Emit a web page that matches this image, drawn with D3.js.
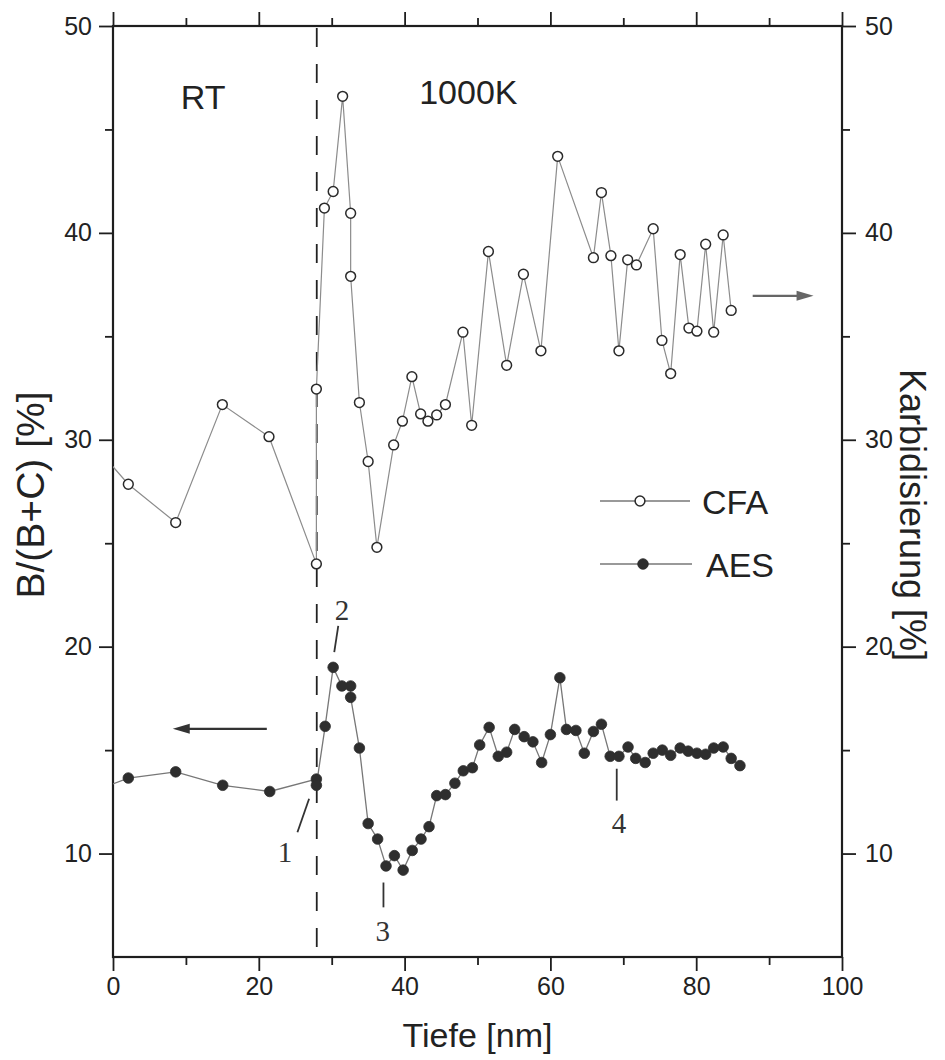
<!DOCTYPE html>
<html>
<head>
<meta charset="utf-8">
<script src="https://cdn.jsdelivr.net/npm/d3@7"></script>
<style>
  html, body { margin: 0; padding: 0; background: #fff; }
  svg { display: block; font-family: "Liberation Sans", Arial, Helvetica, sans-serif; }
</style>
</head>
<body>
<svg id="chart" width="945" height="1060"></svg>
<script>
// Depth profile (nm) of the boron fraction: AES (left axis) and CFA carbidisation (right axis)
const cfaDepth = [-2, 2.1, 8.6, 15.0, 21.4, 27.9, 27.9, 29.0, 30.2, 31.5, 32.6, 32.6, 33.8, 35.0, 36.2,
  38.5, 39.7, 41.0, 42.2, 43.2, 44.4, 45.6, 48.0, 49.2, 51.5, 54.0, 56.3, 58.7, 61.0, 65.9,
  67.0, 68.3, 69.4, 70.6, 71.8, 74.1, 75.3, 76.5, 77.8, 79.0, 80.1, 81.3, 82.4, 83.7, 84.8];
const cfaValue = [29.5, 27.85, 26.0, 31.7, 30.15, 24.0, 32.45, 41.2, 42.0, 46.6, 40.95, 37.9, 31.8, 28.95, 24.8,
  29.75, 30.9, 33.05, 31.25, 30.9, 31.2, 31.7, 35.2, 30.7, 39.1, 33.6, 38.0, 34.3, 43.7, 38.8,
  41.95, 38.9, 34.3, 38.7, 38.45, 40.2, 34.8, 33.2, 38.95, 35.4, 35.25, 39.45, 35.2, 39.9, 36.25];

const aesDepth = [-2, 2.1, 8.6, 15.05, 21.5, 27.9, 27.9, 29.1, 30.2, 31.4, 32.6, 32.6, 33.8, 35.0, 36.3,
  37.45, 38.6, 39.8, 41.05, 42.25, 43.35, 44.4, 45.6, 46.9, 48.05, 49.3, 50.3, 51.6, 52.85, 54.0,
  55.1, 56.4, 57.6, 58.8, 60.0, 61.3, 62.2, 63.5, 64.65, 65.9, 67.0, 68.2, 69.4, 70.65, 71.7,
  73.0, 74.1, 75.35, 76.5, 77.8, 78.9, 80.1, 81.3, 82.4, 83.7, 84.8, 86.0];
const aesValue = [13.1, 13.65, 13.95, 13.3, 13.0, 13.6, 13.3, 16.15, 19.0, 18.1, 18.1, 17.55, 15.1, 11.45, 10.7,
  9.4, 9.9, 9.2, 10.15, 10.7, 11.3, 12.8, 12.85, 13.4, 14.0, 14.15, 15.25, 16.1, 14.7, 14.9,
  16.0, 15.65, 15.4, 14.4, 15.75, 18.5, 16.0, 15.95, 14.85, 15.9, 16.25, 14.7, 14.7, 15.15, 14.6,
  14.4, 14.85, 15.0, 14.75, 15.1, 14.95, 14.85, 14.8, 15.1, 15.15, 14.6, 14.25];

// Axis ticks
const xMajorTicks = [0, 20, 40, 60, 80, 100];
const xMinorTicks = [10, 30, 50, 70, 90];
const yMajorTicks = [10, 20, 30, 40, 50];
const yMinorTicks = [15, 25, 35, 45];

// Boundary between the room-temperature and 1000 K deposition
const boundaryDepth = 27.95;
const regionLabels = [{ text: "RT", depth: 9.3, value: 46.0 }, { text: "1000K", depth: 42.0, value: 46.25 }];

// Numbered markers along the AES profile: label position and pointer segment
const markerLabels = ["1", "2", "3", "4"];
const markerTextDepth = [23.6, 31.4, 37.0, 69.4];
const markerTextValue = [9.6, 21.3, 5.75, 11.0];
const markerLineFrom = [[26.9, 12.65], [30.9, 21.0], [37.1, 8.6], [69.1, 14.1]];
const markerLineTo = [[25.3, 11.03], [30.35, 19.74], [37.1, 7.4], [69.1, 12.56]];

const seriesNames = ["CFA", "AES"];

const svg = d3.select("#chart");
const plot = { left: 113, right: 842, top: 26, bottom: 957 };

const x = d3.scaleLinear().domain([0, 100]).range([plot.left, plot.right]);
const y = d3.scaleLinear().domain([5, 50]).range([plot.bottom, plot.top]);

svg.append("defs").append("clipPath").attr("id", "plotClip")
  .append("rect")
  .attr("x", plot.left).attr("y", plot.top)
  .attr("width", plot.right - plot.left).attr("height", plot.bottom - plot.top);

const axisColor = "#1e1e1e";

function styleAxis(g) {
  g.select(".domain").remove();
  g.selectAll("line").attr("stroke", axisColor).attr("stroke-width", 1.8);
  g.selectAll("text").attr("fill", "#222").attr("font-size", 25);
}

// Major and minor ticks on all four sides
svg.append("g").attr("transform", `translate(0,${plot.bottom})`)
  .call(d3.axisBottom(x).tickValues(xMajorTicks).tickSize(14).tickPadding(6).tickFormat(d3.format("d")))
  .call(styleAxis);
svg.append("g").attr("transform", `translate(0,${plot.bottom})`)
  .call(d3.axisBottom(x).tickValues(xMinorTicks).tickSize(8).tickFormat(""))
  .call(styleAxis);
svg.append("g").attr("transform", `translate(0,${plot.top})`)
  .call(d3.axisTop(x).tickValues(xMajorTicks).tickSize(14).tickFormat(""))
  .call(styleAxis);
svg.append("g").attr("transform", `translate(0,${plot.top})`)
  .call(d3.axisTop(x).tickValues(xMinorTicks).tickSize(8).tickFormat(""))
  .call(styleAxis);

svg.append("g").attr("transform", `translate(${plot.left},0)`)
  .call(d3.axisLeft(y).tickValues(yMajorTicks).tickSize(14).tickPadding(7).tickFormat(d3.format("d")))
  .call(styleAxis);
svg.append("g").attr("transform", `translate(${plot.left},0)`)
  .call(d3.axisLeft(y).tickValues(yMinorTicks).tickSize(8).tickFormat(""))
  .call(styleAxis);
svg.append("g").attr("transform", `translate(${plot.right},0)`)
  .call(d3.axisRight(y).tickValues(yMajorTicks).tickSize(14).tickPadding(9).tickFormat(d3.format("d")))
  .call(styleAxis);
svg.append("g").attr("transform", `translate(${plot.right},0)`)
  .call(d3.axisRight(y).tickValues(yMinorTicks).tickSize(8).tickFormat(""))
  .call(styleAxis);

// Frame
svg.append("rect")
  .attr("x", plot.left).attr("y", plot.top)
  .attr("width", plot.right - plot.left).attr("height", plot.bottom - plot.top)
  .attr("fill", "none").attr("stroke", axisColor).attr("stroke-width", 2.2);

// Dashed boundary
svg.append("line")
  .attr("x1", x(boundaryDepth)).attr("x2", x(boundaryDepth))
  .attr("y1", y(50)).attr("y2", y(5))
  .attr("stroke", "#222").attr("stroke-width", 1.8)
  .attr("stroke-dasharray", "19,17").attr("stroke-dashoffset", -2);

// Series
const cfa = cfaDepth.map((d, i) => ({ depth: d, value: cfaValue[i] }));
const aes = aesDepth.map((d, i) => ({ depth: d, value: aesValue[i] }));

const line = d3.line().x(d => x(d.depth)).y(d => y(d.value));
const data = svg.append("g").attr("clip-path", "url(#plotClip)");

data.append("path").datum(aes).attr("d", line)
  .attr("fill", "none").attr("stroke", "#777").attr("stroke-width", 1.3);
data.append("path").datum(cfa).attr("d", line)
  .attr("fill", "none").attr("stroke", "#8c8c8c").attr("stroke-width", 1.2);

data.selectAll("circle.aes").data(aes).join("circle").attr("class", "aes")
  .attr("cx", d => x(d.depth)).attr("cy", d => y(d.value)).attr("r", 5.3)
  .attr("fill", "#2e2e2e").attr("stroke", "#2e2e2e").attr("stroke-width", 0.8);
data.selectAll("circle.cfa").data(cfa).join("circle").attr("class", "cfa")
  .attr("cx", d => x(d.depth)).attr("cy", d => y(d.value)).attr("r", 4.9)
  .attr("fill", "#fff").attr("stroke", "#2a2a2a").attr("stroke-width", 1.5);

// Region labels
svg.selectAll("text.region").data(regionLabels).join("text").attr("class", "region")
  .attr("x", d => x(d.depth)).attr("y", d => y(d.value))
  .attr("font-size", 34).attr("fill", "#222").text(d => d.text);

// Numbered pointers
const serif = "'Liberation Serif', 'Times New Roman', serif";
markerLabels.forEach((lab, i) => {
  svg.append("line")
    .attr("x1", x(markerLineFrom[i][0])).attr("y1", y(markerLineFrom[i][1]))
    .attr("x2", x(markerLineTo[i][0])).attr("y2", y(markerLineTo[i][1]))
    .attr("stroke", "#333").attr("stroke-width", 1.8);
  svg.append("text")
    .attr("x", x(markerTextDepth[i])).attr("y", y(markerTextValue[i]))
    .attr("text-anchor", "middle").attr("font-family", serif)
    .attr("font-size", 29).attr("fill", "#333").text(lab);
});

// Arrows pointing to the axis each series belongs to
function arrow(fromDepth, toDepth, value, color) {
  const x1 = x(fromDepth), x2 = x(toDepth), yy = y(value);
  const dir = Math.sign(x2 - x1);
  const head = 17;
  svg.append("line")
    .attr("x1", x1).attr("y1", yy).attr("x2", x2 - dir * head + dir * 2).attr("y2", yy)
    .attr("stroke", color).attr("stroke-width", 2.2);
  svg.append("path")
    .attr("d", `M${x2},${yy} L${x2 - dir * head},${yy - 5} L${x2 - dir * head},${yy + 5} Z`)
    .attr("fill", color);
}
arrow(21.1, 8.2, 16.03, "#333");
arrow(87.75, 96.1, 36.96, "#666");

// Legend
const legend = svg.append("g");
const legendRows = [
  { name: seriesNames[0], yPos: 501, x0: 600, x1: 690, cx: 640, open: true, tx: 702 },
  { name: seriesNames[1], yPos: 564, x0: 600, x1: 692, cx: 643, open: false, tx: 706 }
];
legendRows.forEach(r => {
  legend.append("line").attr("x1", r.x0).attr("x2", r.x1).attr("y1", r.yPos).attr("y2", r.yPos)
    .attr("stroke", "#777").attr("stroke-width", 1.3);
  legend.append("circle").attr("cx", r.cx).attr("cy", r.yPos).attr("r", r.open ? 4.9 : 5.3)
    .attr("fill", r.open ? "#fff" : "#2e2e2e").attr("stroke", "#2a2a2a").attr("stroke-width", r.open ? 1.5 : 0.8);
  legend.append("text").attr("x", r.tx).attr("y", r.yPos + 12.5)
    .attr("font-size", 34).attr("fill", "#222").text(r.name);
});

// Axis titles
svg.append("text")
  .attr("x", (plot.left + plot.right) / 2).attr("y", 1047)
  .attr("text-anchor", "middle").attr("font-size", 34).attr("fill", "#222")
  .text("Tiefe [nm]");
svg.append("text")
  .attr("transform", "translate(44,495) rotate(-90)")
  .attr("text-anchor", "middle").attr("font-size", 39).attr("fill", "#222")
  .text("B/(B+C) [%]");
svg.append("text")
  .attr("transform", "translate(900,515) rotate(90)")
  .attr("text-anchor", "middle").attr("font-size", 36).attr("fill", "#222")
  .text("Karbidisierung [%]");
</script>
</body>
</html>
